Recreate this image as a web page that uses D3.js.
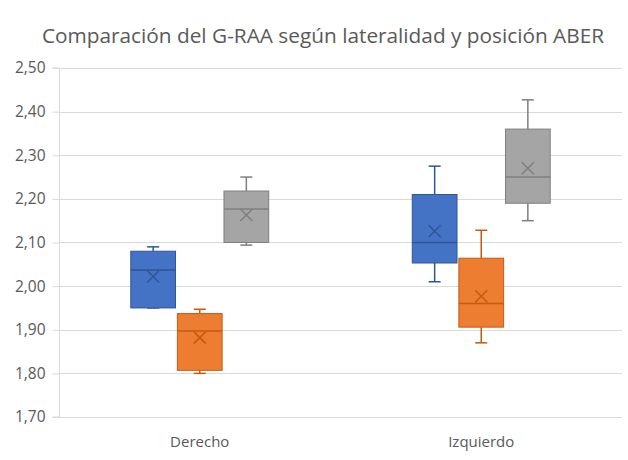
<!DOCTYPE html>
<html lang="es">
<head>
<meta charset="UTF-8">
<title>G-RAA</title>
<script src="https://cdn.jsdelivr.net/npm/d3@7"></script>
<style>
  body { margin: 0; background: #fff; }
  text { font-family: "Open Sans", sans-serif; fill: #595959; }
</style>
</head>
<body>
<div class="app"></div>
<script>
  // datos
  var categories = ['Derecho', 'Izquierdo'];
  var series = ['Serie 1', 'Serie 2', 'Serie 3'];
  var colors = ['#4472C4', '#ED7D31', '#A5A5A5'];
  var strokes = ['#2F5597', '#C55A11', '#7F7F7F'];
  // [min, q1, mediana, q3, max, media] por serie, un array por categoria
  var serie1 = [[1.95, 1.95, 2.037, 2.08, 2.09, 2.022], [2.01, 2.053, 2.10, 2.21, 2.275, 2.126]];
  var serie2 = [[1.80, 1.807, 1.897, 1.937, 1.947, 1.882], [1.87, 1.906, 1.96, 2.064, 2.128, 1.977]];
  var serie3 = [[2.094, 2.10, 2.177, 2.218, 2.25, 2.163], [2.15, 2.19, 2.25, 2.36, 2.427, 2.27]];
  var yTicks = [1.7, 1.8, 1.9, 2.0, 2.1, 2.2, 2.3, 2.4, 2.5];

  var width = 628, height = 460;
  var svg = d3.select('.app').append('svg')
      .attr('width', width).attr('height', height);

  var margin = {top: 68, right: 6, bottom: 43, left: 59};
  var w = width - margin.left - margin.right,
      h = height - margin.top - margin.bottom;
  var g = svg.append('g').attr('transform', 'translate(' + margin.left + ',' + margin.top + ')');

  var x = d3.scaleBand().domain(categories).range([0, w]);
  var xs = d3.scaleBand().domain(series).range([0, x.bandwidth() * 0.49]).paddingInner(0.04);
  var y = d3.scaleLinear().domain([1.7, 2.5]).range([h, 0]);
  var fmt = function(d) { return d3.format('.2f')(d).replace('.', ','); };

  // rejilla
  g.append('g').selectAll('line').data(yTicks).enter().append('line')
      .attr('x1', 0).attr('x2', w)
      .attr('y1', function(d) { return Math.round(y(d)) + 0.5; })
      .attr('y2', function(d) { return Math.round(y(d)) + 0.5; })
      .attr('stroke', '#D9D9D9').attr('stroke-width', 1);

  // eje y
  var ya = g.append('g').attr('transform', 'translate(0.5,0)')
      .call(d3.axisLeft(y).tickValues(yTicks).tickFormat(fmt).tickSize(7).tickPadding(7));
  ya.select('.domain').attr('stroke', '#D9D9D9').attr('d', 'M-7,' + h + 'H0V0H-7');
  ya.selectAll('.tick line').attr('stroke', '#D9D9D9');
  ya.selectAll('.tick text').style('font-size', '15.5px').attr('fill', '#595959')
      .style('font-family', '"Open Sans", sans-serif');

  // eje x
  g.append('g').selectAll('text').data(categories).enter().append('text')
      .attr('x', function(d) { return x(d) + x.bandwidth() / 2; })
      .attr('y', h + 30)
      .attr('text-anchor', 'middle')
      .style('font-size', '15px')
      .text(function(d) { return d; });

  // cajas
  var all = [serie1, serie2, serie3];
  var groupOff = (x.bandwidth() - xs.range()[1]) / 2;
  all.forEach(function(s, si) {
    categories.forEach(function(c, ci) {
      var d = s[ci];
      var x0 = x(c) + groupOff + xs(series[si]);
      var bw = xs.bandwidth();
      var cx = x0 + bw / 2;
      var box = g.append('g');
      // bigotes
      box.append('line').attr('x1', cx).attr('x2', cx)
          .attr('y1', y(d[4])).attr('y2', y(d[3]))
          .attr('stroke', strokes[si]).attr('stroke-width', 1.5);
      box.append('line').attr('x1', cx).attr('x2', cx)
          .attr('y1', y(d[1])).attr('y2', y(d[0]))
          .attr('stroke', strokes[si]).attr('stroke-width', 1.5);
      [d[0], d[4]].forEach(function(v) {
        box.append('line').attr('x1', cx - 6).attr('x2', cx + 6)
            .attr('y1', y(v)).attr('y2', y(v))
            .attr('stroke', strokes[si]).attr('stroke-width', 1.5);
      });
      // caja
      box.append('rect').attr('x', x0).attr('width', bw)
          .attr('y', y(d[3])).attr('height', y(d[1]) - y(d[3]))
          .attr('fill', colors[si]).attr('stroke', strokes[si]).attr('stroke-width', 1);
      // mediana
      box.append('line').attr('x1', x0).attr('x2', x0 + bw)
          .attr('y1', y(d[2])).attr('y2', y(d[2]))
          .attr('stroke', strokes[si]).attr('stroke-width', 1.5);
      // media
      var m = y(d[5]), r = 6;
      box.append('path')
          .attr('d', 'M' + (cx - r) + ',' + (m - r) + 'L' + (cx + r) + ',' + (m + r) +
                     'M' + (cx - r) + ',' + (m + r) + 'L' + (cx + r) + ',' + (m - r))
          .attr('stroke', strokes[si]).attr('stroke-width', 1.5).attr('fill', 'none');
    });
  });

  // titulo
  svg.append('text')
      .attr('x', 323).attr('y', 43)
      .attr('text-anchor', 'middle')
      .style('font-size', '20.8px')
      .text('Comparación del G-RAA según lateralidad y posición ABER');
</script>
</body>
</html>
